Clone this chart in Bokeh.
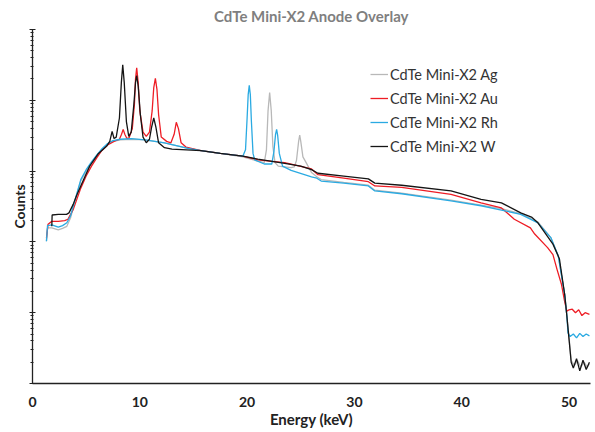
from bokeh.plotting import figure
from bokeh.models import Range1d, Legend, LegendItem, LogTicker
from bokeh.embed import file_html
from bokeh.resources import INLINE

# ---- data (energy in keV, counts) ----
ag_energy = [1.30, 1.40, 1.8, 2.4, 2.8, 3.2, 3.55, 3.9, 4.5, 5.0,
             5.5, 6.0, 6.5, 7.0, 7.5, 8.2, 9.2, 10.5, 12.3, 14.5,
             15.7, 17.5, 19.6, 21.0, 21.6, 21.8, 21.95, 22.1, 22.25, 22.4,
             22.6, 22.9, 24.1, 24.4, 24.6, 24.8, 24.9, 25.0, 25.2, 25.5,
             26.0, 26.5, 26.9, 29.0, 31.3, 31.9, 34.4, 39.0, 41.8, 43.7,
             45.5, 47.1, 48.3, 49.0, 49.6, 49.8, 50.0, 50.2, 50.5, 50.8,
             51.1, 51.4, 51.7, 51.9]
ag_counts = [102, 158, 158, 148, 155, 166, 219, 347, 724, 1000,
             1318, 1660, 2042, 2399, 2630, 2754, 2818, 2754, 2512, 2089,
             1950, 1778, 1585, 1380, 1318, 1995, 7079, 12880, 7079, 2239,
             1318, 1175, 1122, 1148, 1413, 2630, 3236, 2630, 1585, 1318,
             955, 832, 759, 692, 631, 537, 490, 389, 331, 295,
             251, 191, 115, 63, 17.8, 8.9, 4.5, 2.1, 1.8, 2.1,
             1.7, 2.0, 1.7, 1.9]

au_energy = [1.30, 1.45, 1.8, 2.4, 3.0, 3.3, 3.8, 4.5, 5.0, 5.5,
             6.0, 6.4, 7.0, 7.6, 8.1, 8.3, 8.45, 8.6, 8.8, 9.0,
             9.3, 9.5, 9.6, 9.71, 9.85, 10.0, 10.3, 10.6, 10.9, 11.15,
             11.3, 11.45, 11.6, 11.75, 12.0, 12.5, 12.9, 13.2, 13.4, 13.6,
             13.85, 14.3, 15.7, 17.5, 19.6, 21.0, 23.5, 26.0, 26.6, 29.0,
             31.3, 31.9, 34.4, 39.0, 41.8, 43.7, 44.9, 46.4, 46.8, 48.0,
             48.5, 48.9, 49.3, 49.6, 49.8, 50.0, 50.3, 50.6, 50.9, 51.2,
             51.5, 51.9]
au_counts = [112, 178, 195, 195, 200, 209, 288, 575, 851, 1175,
             1549, 1905, 2344, 2630, 2818, 3311, 3890, 3311, 2884, 2951,
             3981, 8913, 19950, 28840, 17780, 7079, 3548, 3090, 3548, 7079,
             15140, 20420, 14130, 6310, 3020, 2630, 2512, 3311, 4898, 3981,
             2512, 2188, 1950, 1778, 1622, 1445, 1318, 1072, 891, 794,
             708, 617, 589, 468, 355, 302, 209, 158, 129, 83,
             66, 40, 25, 14.1, 10.5, 11.0, 11.2, 10.0, 11.0, 9.1,
             10.0, 9.5]

rh_energy = [1.30, 1.40, 1.8, 2.4, 2.8, 3.2, 3.55, 3.9, 4.5, 5.0,
             5.5, 6.0, 6.5, 7.0, 7.5, 8.2, 9.2, 10.5, 12.3, 14.5,
             15.7, 17.5, 19.6, 19.85, 20.0, 20.1, 20.2, 20.3, 20.4, 20.55,
             20.7, 21.6, 22.3, 22.5, 22.65, 22.75, 22.85, 23.0, 23.3, 24.1,
             26.0, 26.5, 26.9, 29.0, 31.3, 31.9, 34.4, 39.0, 41.8, 43.7,
             45.5, 47.1, 48.3, 49.0, 49.6, 49.8, 49.9, 50.1, 50.4, 50.7,
             51.0, 51.3, 51.6, 51.9]
rh_counts = [102, 170, 174, 162, 170, 186, 234, 363, 759, 1047,
             1349, 1698, 2089, 2455, 2692, 2818, 2884, 2754, 2512, 2089,
             1950, 1778, 1622, 1995, 5623, 12020, 16220, 12020, 5012, 1778,
             1445, 1259, 1259, 1905, 3311, 3890, 3162, 1778, 1175, 1023,
             832, 794, 724, 676, 617, 525, 479, 380, 324, 282,
             245, 186, 115, 63, 17.8, 8.9, 5.2, 4.6, 5.0, 4.4,
             5.1, 4.6, 5.0, 4.7]

w_energy = [1.80, 1.83, 2.4, 3.17, 3.4, 3.79, 4.1, 4.56, 5.33, 6.1,
            6.9, 7.2, 7.42, 7.6, 7.8, 8.1, 8.28, 8.41, 8.55, 8.75,
            8.97, 9.2, 9.45, 9.6, 9.71, 9.85, 10.05, 10.3, 10.6, 10.9,
            11.1, 11.3, 11.5, 11.75, 12.3, 13.0, 15.7, 17.5, 19.6, 21.0,
            23.5, 25.0, 26.0, 26.6, 29.0, 31.3, 31.9, 34.4, 39.0, 41.8,
            43.7, 45.5, 46.5, 47.1, 48.5, 49.1, 49.6, 49.8, 50.0, 50.2,
            50.4, 50.7, 51.0, 51.3, 51.6, 51.9]
w_counts = [166, 240, 245, 245, 257, 339, 447, 646, 1175, 1738,
            2239, 2630, 3631, 2884, 3020, 5623, 17780, 31620, 17780, 5012,
            3090, 3548, 8913, 17780, 22390, 15850, 6310, 3020, 2512, 2818,
            4169, 5623, 4169, 2512, 2138, 2042, 1950, 1778, 1622, 1479,
            1288, 1175, 1047, 933, 851, 776, 676, 631, 525, 398,
            355, 257, 224, 186, 93, 58, 17.8, 8.9, 4.2, 2.0,
            1.66, 2.24, 1.51, 2.14, 1.58, 2.0]

series_names = ["CdTe Mini-X2 Ag", "CdTe Mini-X2 Au", "CdTe Mini-X2 Rh", "CdTe Mini-X2 W"]
series_colors = ["#b8b8b8", "#ee1d25", "#2aaae2", "#151515"]
x_ticks = [0, 10, 20, 30, 40, 50]

FONT = "Lato"

p = figure(width=595, height=432, y_axis_type="log",
           x_range=Range1d(0, 52), y_range=Range1d(1, 1e5),
           output_backend="svg", toolbar_location=None,
           min_border_left=32, min_border_right=5,
           min_border_top=28, min_border_bottom=49)

p.title.text = "CdTe Mini-X2 Anode Overlay"
p.title.align = "center"
p.title.text_font = FONT
p.title.text_font_size = "15px"
p.title.text_font_style = "bold"
p.title.text_color = "#7f7f7f"
p.title.standoff = 9

p.outline_line_color = None
p.xgrid.visible = False
p.ygrid.visible = False
p.background_fill_color = "white"
p.border_fill_color = "white"

renderers = []
for xs, ys, col in zip([ag_energy, au_energy, rh_energy, w_energy],
                       [ag_counts, au_counts, rh_counts, w_counts],
                       series_colors):
    r = p.line(xs, ys, line_color=col, line_width=1.3)
    renderers.append(r)

# x axis
xa = p.xaxis[0]
xa.ticker = x_ticks
xa.major_tick_out = 0
xa.major_tick_in = 0
xa.minor_tick_out = 0
xa.minor_tick_in = 0
xa.axis_line_color = "#222222"
xa.axis_line_width = 1.3
xa.major_label_text_font = FONT
xa.major_label_text_font_size = "14px"
xa.major_label_text_font_style = "bold"
xa.major_label_text_color = "#222222"
xa.major_label_standoff = 13
xa.axis_label = "Energy (keV)"
xa.axis_label_text_font = FONT
xa.axis_label_text_font_size = "15px"
xa.axis_label_text_font_style = "bold"
xa.axis_label_text_color = "#222222"
xa.axis_label_standoff = 0

# y axis (ticks only, labels hidden)
ya = p.yaxis[0]
ya.ticker = LogTicker(num_minor_ticks=10)
ya.axis_line_color = "#222222"
ya.axis_line_width = 1.3
ya.major_tick_in = 3
ya.major_tick_out = 3
ya.minor_tick_in = 1
ya.minor_tick_out = 2
ya.major_tick_line_color = "#222222"
ya.minor_tick_line_color = "#222222"
ya.major_label_text_font_size = "1px"
ya.major_label_text_alpha = 0
ya.major_label_standoff = 0
ya.axis_label = "Counts"
ya.axis_label_text_font = FONT
ya.axis_label_text_font_size = "14px"
ya.axis_label_text_font_style = "bold"
ya.axis_label_text_color = "#222222"
ya.axis_label_standoff = 2

legend = Legend(items=[LegendItem(label=n, renderers=[r]) for n, r in zip(series_names, renderers)],
                location=(338, 227), padding=0, margin=0, spacing=4,
                glyph_width=18, glyph_height=20, label_height=20, label_standoff=2,
                label_text_font=FONT, label_text_font_size="14.5px",
                label_text_color="#333333",
                border_line_color=None, background_fill_alpha=0)
p.add_layout(legend)

open("out.html", "w").write(file_html(p, INLINE))
